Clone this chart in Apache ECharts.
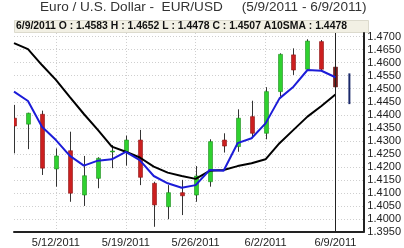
<!DOCTYPE html>
<html><head><meta charset="utf-8">
<script src="https://cdn.jsdelivr.net/npm/echarts@6/dist/echarts.min.js"></script>
<style>html,body{margin:0;padding:0;background:#fff}#c{width:404px;height:248px}</style>
</head><body><div id="c"></div>
<script>
const dates = ['5/9/2011','5/10/2011','5/11/2011','5/12/2011','5/13/2011','5/16/2011','5/17/2011','5/18/2011','5/19/2011','5/20/2011','5/23/2011','5/24/2011','5/25/2011','5/26/2011','5/27/2011','5/30/2011','5/31/2011','6/1/2011','6/2/2011','6/3/2011','6/6/2011','6/7/2011','6/8/2011','6/9/2011'];
const extraSlots = ['6/10/2011','6/13/2011'];
const opens  = [1.4387,1.4364,1.4402,1.4192,1.4262,1.4092,1.4156,1.4260,1.4258,1.4303,1.4137,1.4047,1.4101,1.4092,1.4143,1.4303,1.4278,1.4393,1.4329,1.4489,1.4630,1.4575,1.4681,1.4583];
const closes = [1.4357,1.4406,1.4195,1.4242,1.4099,1.4166,1.4233,1.4261,1.4303,1.4160,1.4054,1.4101,1.4089,1.4165,1.4297,1.4280,1.4387,1.4329,1.4489,1.4632,1.4572,1.4683,1.4575,1.4507];
const lows   = [1.4252,1.4268,1.4169,1.4124,1.4066,1.4050,1.4118,1.4195,1.4205,1.4130,1.3970,1.3999,1.4015,1.4066,1.4124,1.4255,1.4258,1.4310,1.4306,1.4470,1.4553,1.4572,1.4572,1.4478];
const highs  = [1.4438,1.4408,1.4416,1.4271,1.4335,1.4242,1.4237,1.4284,1.4320,1.4342,1.4143,1.4130,1.4150,1.4203,1.4306,1.4329,1.4421,1.4454,1.4506,1.4636,1.4655,1.4690,1.4687,1.4652];
const sma5   = [1.4489,1.4453,1.4354,1.4303,1.4242,1.4205,1.4224,1.4229,1.4258,1.4226,1.4165,1.4137,1.4120,1.4130,1.4188,1.4185,1.4291,1.4310,1.4367,1.4463,1.4508,1.4572,1.4569,1.4544];
const sma10  = [1.4675,1.4652,1.4591,1.4534,1.4468,1.4403,1.4342,1.4278,1.4258,1.4236,1.4201,1.4178,1.4165,1.4154,1.4185,1.4188,1.4203,1.4214,1.4229,1.4291,1.4342,1.4393,1.4434,1.4478];
const rangeSlot = 24;
const rangeLow = 1.4441, rangeHigh = 1.4559;
const yTickMin = 1.395, yTickMax = 1.4714, yTickStep = 0.005;
const labelIdx = [3, 8, 13, 18, 23];
const titleText = 'Euro / U.S. Dollar -  EUR/USD     (5/9/2011 - 6/9/2011)';

const NARROW = "'Liberation Sans Narrow','Arial Narrow','Liberation Sans',Arial,sans-serif";
const last = dates.length - 1;
const infoText = dates[last] + ' O : ' + opens[last].toFixed(4) + ' H : ' + highs[last].toFixed(4) +
  ' L : ' + lows[last].toFixed(4) + ' C : ' + closes[last].toFixed(4) + ' A10SMA : ' + sma10[last].toFixed(4);

const candleData = dates.map((d, i) => [i, opens[i], closes[i], lows[i], highs[i]]);

const chart = echarts.init(document.getElementById('c'), null, {renderer: 'canvas'});
chart.setOption({
  animation: false,
  grid: {left: 14, right: 34, top: 33, bottom: 15.5},
  graphic: [
    {type: 'text', left: 40, top: 0, style: {text: titleText, font: '13.6px ' + NARROW, fill: '#333'}},
    {type: 'rect', left: 14, top: 20, shape: {width: 354, height: 12}, style: {fill: '#f2f0e4', stroke: '#dcdacd', lineWidth: 1}},
    {type: 'text', left: 16, top: 21, style: {text: infoText, font: 'bold 10.4px ' + NARROW, fill: '#111'}}
  ],
  xAxis: {
    type: 'category', data: dates.concat(extraSlots), boundaryGap: false,
    axisLine: {lineStyle: {color: '#222', width: 2}},
    axisTick: {show: false},
    axisLabel: {interval: (i) => labelIdx.includes(i), fontSize: 11, fontFamily: NARROW, color: '#222', margin: 5},
    splitLine: {show: true, interval: (i) => labelIdx.includes(i), lineStyle: {color: '#cfcfcf', type: [1, 2]}}
  },
  yAxis: {
    type: 'value', position: 'right', min: yTickMin, max: yTickMax, interval: yTickStep, scale: true,
    axisLine: {show: true, lineStyle: {color: '#222', width: 2}},
    axisTick: {show: false},
    axisLabel: {showMaxLabel: false, formatter: (v) => v.toFixed(4), fontSize: 11, fontFamily: NARROW, color: '#222', margin: 4},
    splitLine: {show: true, showMaxLine: false, lineStyle: {color: '#cfcfcf', type: [1, 2]}}
  },
  series: [
    {
      type: 'custom', clip: true, z: 2,
      data: candleData,
      encode: {x: 0, y: [1, 2, 3, 4]},
      renderItem: function (params, api) {
        const i = api.value(0), o = api.value(1), c = api.value(2), l = api.value(3), h = api.value(4);
        const ph = api.coord([i, h]), pl = api.coord([i, l]), po = api.coord([i, o]), pc = api.coord([i, c]);
        const x = Math.round(ph[0]);
        const up = c >= o;
        const isLast = i === last;
        const fill = up ? '#2fd12f' : (isLast ? '#7d1a1a' : '#cc1f1f');
        const stroke = up ? '#1d8a1d' : (isLast ? '#5a1010' : '#8a1414');
        const top = Math.min(po[1], pc[1]);
        const hgt = Math.max(1, Math.abs(po[1] - pc[1]));
        return {
          type: 'group',
          children: [
            {type: 'line', shape: {x1: x + 0.5, y1: ph[1], x2: x + 0.5, y2: pl[1]}, style: {stroke: '#333', lineWidth: 1}},
            {type: 'rect', shape: {x: x - 1.5, y: top, width: 4, height: hgt}, style: {fill: fill, stroke: stroke, lineWidth: 0.6}}
          ]
        };
      }
    },
    {
      type: 'line', data: sma10, symbol: 'none', z: 4,
      lineStyle: {color: '#000', width: 2}, silent: true,
      markLine: {silent: true, symbol: 'none', label: {show: false}, lineStyle: {color: '#222', width: 1, type: 'solid'},
        data: [{xAxis: dates[last]}]}
    },
    {type: 'line', data: sma5, symbol: 'none', z: 5, lineStyle: {color: '#1c1cd8', width: 2}, silent: true},
    {type: 'line', data: [[rangeSlot, rangeLow], [rangeSlot, rangeHigh]], symbol: 'none', z: 5, lineStyle: {color: '#1b2a6b', width: 2}, silent: true}
  ]
});
</script></body></html>
